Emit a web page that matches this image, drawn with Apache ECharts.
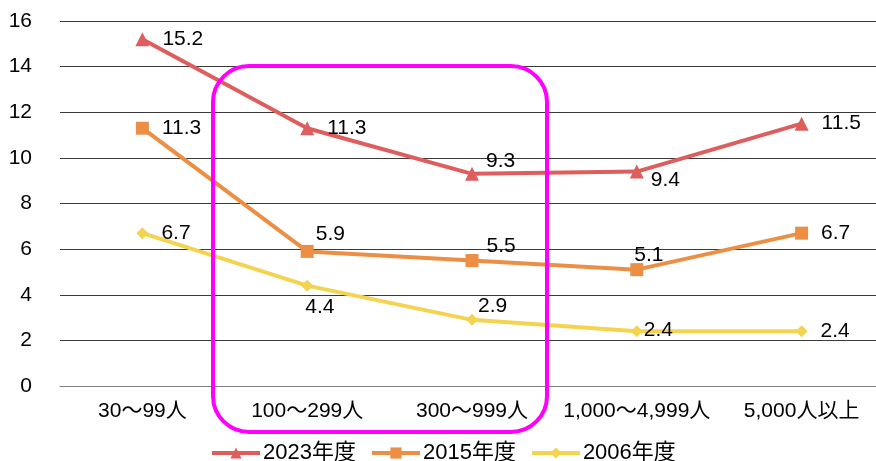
<!DOCTYPE html>
<html>
<head>
<meta charset="utf-8">
<script src="https://cdn.jsdelivr.net/npm/echarts@6/dist/echarts.min.js"></script>
<style>
  html, body { margin: 0; padding: 0; background: #fff; overflow: hidden; width: 876px; height: 461px; }
  /* the plot area runs slightly past the right edge of the page */
  #chart { width: 884px; height: 461px; }
</style>
</head>
<body>
<div id="chart"></div>
<script>
// Company-size categories (x axis)
const categories = ['30～99人', '100～299人', '300～999人', '1,000～4,999人', '5,000人以上'];

// Survey values per fiscal year
const seriesNames = ['2023年度', '2015年度', '2006年度'];
const values2023 = [15.2, 11.3, 9.3, 9.4, 11.5];
const values2015 = [11.3, 5.9, 5.5, 5.1, 6.7];
const values2006 = [6.7, 4.4, 2.9, 2.4, 2.4];

// Y-axis tick range
const yMin = 0, yMax = 16, yStep = 2;

// Label offsets (dx, dy) from the default right-side placement, per point
const labelShift = [
  [[0, 0], [0, 0], [-6, -13], [-6, 9], [0, 0]],
  [[0, 0], [-11, -17], [-5, -14], [-22, -14], [0, 0]],
  [[0, 0], [-21, 22], [-13, -14], [-12, -1], [0, 0]]
];

const colors = ['#DE5E5E', '#EC8F44', '#F4D44E'];
const symbols = ['triangle', 'rect', 'diamond'];
const symbolSizes = [14, 13, 12];
const font = "'Liberation Sans', Arial, 'Noto Sans CJK JP', sans-serif";

const allValues = [values2023, values2015, values2006];

const series = allValues.map((vals, s) => ({
  name: seriesNames[s],
  type: 'line',
  data: vals.map((v, i) => ({
    value: v,
    label: { offset: labelShift[s][i] }
  })),
  symbol: symbols[s],
  symbolSize: symbolSizes[s],
  showAllSymbol: true,
  lineStyle: { color: colors[s], width: 4 },
  itemStyle: { color: colors[s] },
  label: {
    show: true,
    position: 'right',
    distance: 13,
    color: '#000',
    fontSize: 21,
    fontFamily: font,
    formatter: p => p.value.toFixed(1)
  },
  emphasis: { disabled: true },
  z: 3 - s
}));

const chart = echarts.init(document.getElementById('chart'), null, { renderer: 'canvas' });
chart.setOption({
  animation: false,
  backgroundColor: '#fff',
  grid: { left: 60, top: 21, right: 0, height: 365, containLabel: false },
  xAxis: {
    type: 'category',
    data: categories,
    boundaryGap: true,
    axisLine: { show: true, lineStyle: { color: '#808080', width: 1 } },
    axisTick: { show: false },
    axisLabel: { color: '#000', fontSize: 21, fontFamily: font, margin: 15, interval: 0 }
  },
  yAxis: {
    type: 'value',
    min: yMin,
    max: yMax,
    interval: yStep,
    axisLine: { show: false },
    axisTick: { show: false },
    axisLabel: { color: '#000', fontSize: 21, fontFamily: font, margin: 28, align: 'right' },
    splitLine: { show: true, lineStyle: { color: '#3a3a3a', width: 1 } }
  },
  legend: {
    data: seriesNames,
    top: 437,
    left: 205,
    itemWidth: 48,
    itemHeight: 14,
    itemGap: 14,
    lineStyle: { width: 4 },
    textStyle: { color: '#000', fontSize: 22, fontFamily: font, padding: [0, 0, 0, -2] }
  },
  graphic: [{
    type: 'rect',
    shape: { x: 213, y: 66, width: 334, height: 366, r: 36 },
    style: { fill: 'none', stroke: '#FF00FF', lineWidth: 4 },
    z: 100
  }],
  series
});
</script>
</body>
</html>
